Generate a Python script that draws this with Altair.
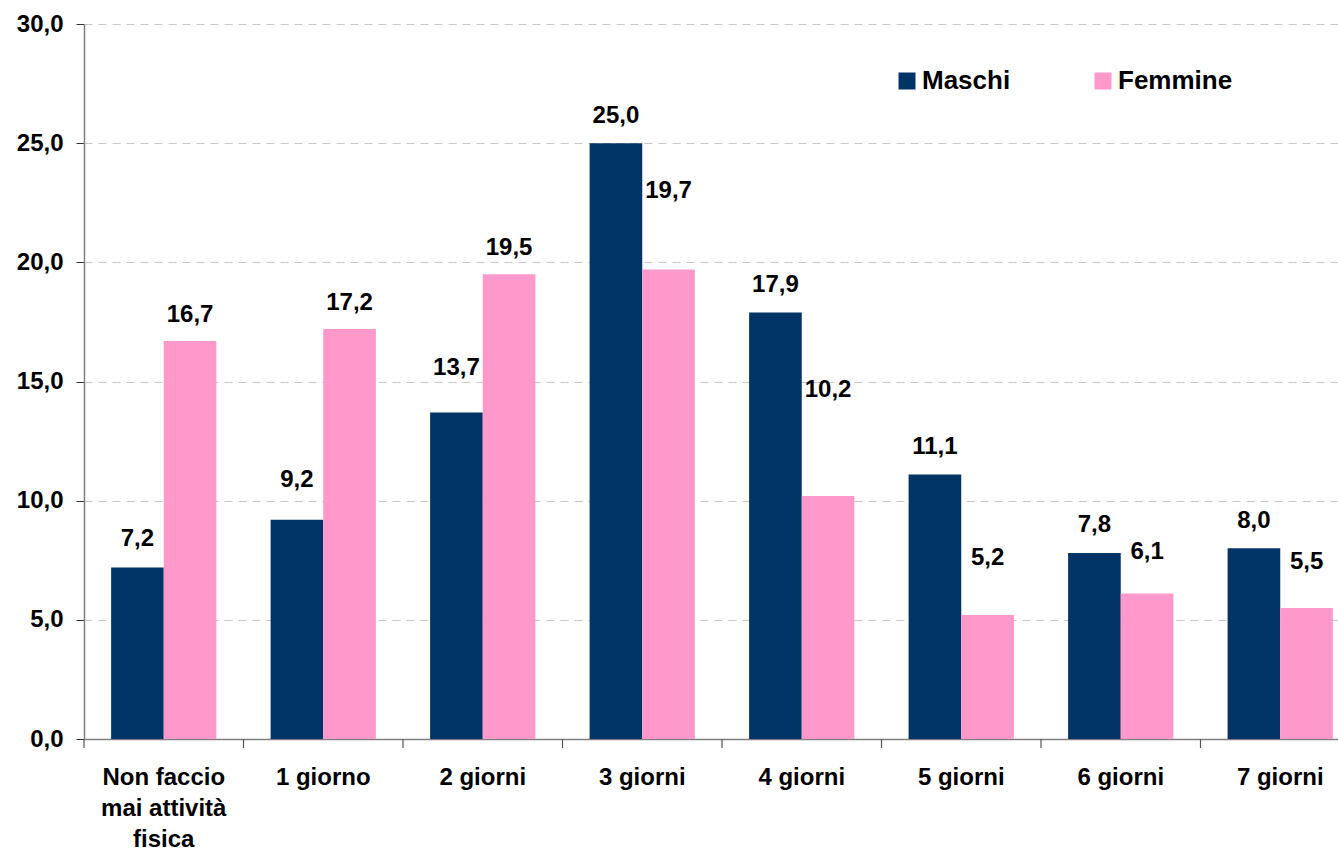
import altair as alt
import pandas as pd

# Weekly days of physical activity, by sex (percent)
categories = ["Non faccio mai attività fisica", "1 giorno", "2 giorni", "3 giorni",
              "4 giorni", "5 giorni", "6 giorni", "7 giorni"]
series = ["Maschi", "Femmine"]
maschi = [7.2, 9.2, 13.7, 25.0, 17.9, 11.1, 7.8, 8.0]
femmine = [16.7, 17.2, 19.5, 19.7, 10.2, 5.2, 6.1, 5.5]
y_ticks = [0, 5, 10, 15, 20, 25, 30]

# distance (px) of each value label above its bar
lift_maschi = [28, 40, 44, 27, 27, 27, 28, 27]
lift_femmine = [26, 26, 26, 78, 106, 57, 42, 46]

rows = []
for i, cat in enumerate(categories):
    rows.append({"cat": cat, "sex": "Maschi", "value": maschi[i], "lift": lift_maschi[i]})
    rows.append({"cat": cat, "sex": "Femmine", "value": femmine[i], "lift": lift_femmine[i]})
df = pd.DataFrame(rows)

W, H = 1254, 715
X_RANGE = 1276
Y_MAX = 30
FONT = "Liberation Sans"
NAVY, PINK = "#003366", "#FF99CC"

x_scale = alt.Scale(range=[0, X_RANGE], paddingInner=0.34, paddingOuter=0.17)
x_enc = alt.X(
    "cat:N", sort=categories, scale=x_scale,
    axis=alt.Axis(
        title=None, labelAngle=0, ticks=False, tickSize=0, labelPadding=26,
        labelFont=FONT, labelFontSize=24, labelFontWeight="bold", labelColor="black",
        labelLineHeight=31, labelLimit=300,
        labelExpr="datum.label == 'Non faccio mai attività fisica' ? "
                  "['Non faccio', 'mai attività', 'fisica'] : datum.label",
        domainColor="#808080", domainWidth=1.5, grid=False,
    ),
)
y_scale = alt.Scale(domain=[0, Y_MAX], nice=False)
y_enc = alt.Y(
    "value:Q",
    scale=y_scale,
    axis=alt.Axis(
        title=None, values=y_ticks, tickSize=8, tickColor="#333333", labelPadding=13,
        labelFont=FONT, labelFontSize=24, labelFontWeight="bold", labelColor="black",
        labelExpr="replace(format(datum.value, '.1f'), '.', ',')",
        domainColor="#808080", domainWidth=1.5,
        grid=True, gridColor="#c8c8c8", gridDash=[8, 6], gridWidth=1,
    ),
)
x_off = alt.XOffset("sex:N", sort=series, scale=alt.Scale(paddingInner=0, paddingOuter=0))

bars = alt.Chart(df).mark_bar().encode(
    x=x_enc,
    y=y_enc,
    xOffset=x_off,
    color=alt.Color(
        "sex:N", sort=series,
        scale=alt.Scale(domain=series, range=[NAVY, PINK]),
        legend=alt.Legend(
            title=None, orient="none", direction="horizontal",
            legendX=810, legendY=44, symbolType="square", symbolSize=289,
            symbolStrokeWidth=0, symbolOpacity=1, labelFont=FONT, labelFontSize=26,
            labelFontWeight="bold", labelColor="black", labelOffset=2,
            columnPadding=79, padding=0,
        ),
    ),
)

# value labels, lifted above their bars by the pixel distance in "lift"
labels = alt.Chart(df).transform_calculate(
    label="replace(format(datum.value, '.1f'), '.', ',')",
    label_y=f"datum.value + datum.lift * {Y_MAX} / {H}",
).mark_text(
    font=FONT, fontSize=24, fontWeight="bold", color="black", baseline="middle", align="center"
).encode(
    x=alt.X("cat:N", sort=categories, scale=x_scale),
    xOffset=x_off,
    y=alt.Y("label_y:Q", scale=y_scale),
    text="label:N",
)

# category separator ticks under the x axis, on the band boundaries
edge_scale = alt.Scale(range=[0, X_RANGE], paddingInner=0, paddingOuter=0)
ticks = alt.Chart(pd.DataFrame({"cat": categories})).mark_rule(
    color="#555555", strokeWidth=1.2
).encode(
    x=alt.X("cat:N", sort=categories, scale=edge_scale, bandPosition=0, axis=None),
    y=alt.value(H),
    y2=alt.value(H + 9),
)

chart = alt.layer(alt.layer(bars, labels), ticks).resolve_scale(x="independent").properties(
    width=W, height=H,
    autosize=alt.AutoSizeParams(type="none"),
    padding={"left": 84, "top": 24, "right": 0, "bottom": 111},
    background="white",
).configure_view(stroke=None)

chart.save("out.html", embed_options={"renderer": "svg", "actions": False})
